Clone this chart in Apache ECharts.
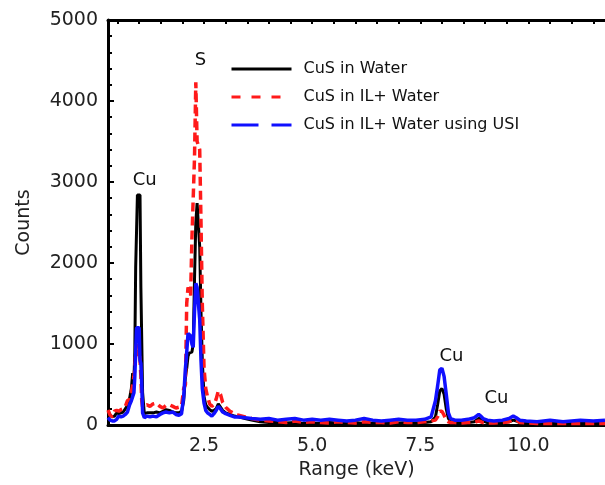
<!DOCTYPE html>
<html>
<head>
<meta charset="utf-8">
<script src="https://cdn.jsdelivr.net/npm/echarts@6/dist/echarts.min.js"></script>
<style>
  html, body { margin: 0; padding: 0; background: #fff; }
  #chart { width: 605px; height: 485px; }
</style>
</head>
<body>
<div id="chart"></div>
<script>
// energy grid (keV), shared by all three spectra
var energy = [0.28, 0.33, 0.38, 0.43, 0.48, 0.53, 0.58, 0.63, 0.68, 0.73, 0.78, 0.82, 0.85, 0.88, 0.9, 0.92, 0.94, 0.96, 0.98, 1.0,
  1.02, 1.04, 1.06, 1.08, 1.12, 1.18, 1.25, 1.32, 1.4, 1.48, 1.55, 1.62, 1.7, 1.78, 1.85, 1.92, 1.98, 2.03, 2.07, 2.1,
  2.13, 2.16, 2.19, 2.22, 2.25, 2.28, 2.31, 2.34, 2.37, 2.4, 2.43, 2.46, 2.5, 2.54, 2.58, 2.63, 2.68, 2.73, 2.78, 2.83,
  2.88, 2.93, 3.0, 3.1, 3.2, 3.3, 3.45, 3.6, 3.8, 4.0, 4.2, 4.4, 4.6, 4.8, 5.0, 5.2, 5.4, 5.6, 5.8, 6.0,
  6.2, 6.4, 6.6, 6.8, 7.0, 7.2, 7.4, 7.6, 7.75, 7.85, 7.9, 7.95, 8.0, 8.05, 8.1, 8.15, 8.2, 8.3, 8.45, 8.6,
  8.75, 8.85, 8.9, 8.95, 9.05, 9.2, 9.4, 9.55, 9.65, 9.72, 9.8, 9.95, 10.2, 10.5, 10.8, 11.0, 11.2, 11.5, 11.77]

var cusWater = [160, 120, 100, 110, 150, 140, 150, 160, 200, 240, 330, 450, 640, 560, 900, 1950, 1950, 2840, 2840, 2840,
  2840, 1700, 1700, 400, 140, 150, 150, 150, 160, 150, 170, 190, 180, 160, 150, 150, 170, 300, 600, 700,
  850, 890, 890, 900, 1000, 1800, 2500, 2740, 2740, 2200, 1400, 800, 350, 250, 220, 190, 170, 180, 200, 260,
  220, 180, 150, 130, 110, 100, 80, 60, 40, 30, 30, 25, 30, 20, 25, 20, 30, 25, 20, 30,
  20, 25, 20, 30, 25, 30, 25, 30, 40, 100, 250, 420, 450, 380, 200, 80, 40, 30, 25, 30,
  40, 80, 80, 50, 30, 25, 30, 40, 60, 50, 30, 25, 20, 20, 20, 20, 20, 20, 20]

var cusIL = [185, 120, 100, 170, 180, 170, 190, 200, 230, 300, 320, 400, 500, 600, 700, 900, 1000, 950, 850, 900,
  800, 600, 300, 220, 240, 250, 230, 260, 270, 230, 210, 240, 250, 230, 210, 220, 230, 450, 500, 1500,
  1700, 1650, 1600, 2300, 2800, 3300, 4230, 3500, 3480, 3400, 2500, 1500, 700, 450, 350, 260, 230, 250, 320, 420,
  380, 280, 220, 170, 140, 120, 100, 80, 60, 50, 40, 30, 50, 30, 40, 30, 25, 40, 30, 25,
  40, 30, 30, 25, 40, 30, 30, 40, 50, 60, 100, 170, 170, 120, 60, 40, 30, 30, 25, 30,
  30, 50, 40, 30, 25, 25, 30, 40, 70, 60, 30, 25, 20, 20, 20, 20, 20, 20, 20]

var cusUSI = [90, 60, 50, 50, 70, 110, 100, 110, 130, 160, 250, 300, 350, 400, 600, 900, 1200, 1200, 1200, 1200,
  800, 760, 500, 150, 90, 110, 100, 110, 100, 130, 150, 160, 150, 160, 130, 120, 140, 350, 700, 900,
  1130, 1130, 1100, 1000, 960, 1400, 1750, 1700, 1700, 1300, 800, 450, 270, 180, 150, 130, 110, 140, 180, 230,
  200, 160, 140, 120, 100, 100, 90, 80, 70, 80, 60, 70, 80, 60, 70, 60, 70, 60, 50, 60,
  80, 60, 50, 60, 70, 60, 60, 70, 100, 300, 480, 680, 700, 600, 380, 150, 80, 60, 60, 70,
  90, 130, 110, 80, 60, 50, 60, 80, 110, 90, 60, 50, 40, 60, 40, 50, 60, 50, 60]

var seriesNames = ['CuS in Water', 'CuS in IL+ Water', 'CuS in IL+ Water using USI']
var xLabels = [2.5, 5, 7.5, 10]
var topTicks = [0.5, 1, 1.5, 2, 2.5, 3, 3.5, 4, 4.5, 5, 5.5, 6, 6.5, 7, 7.5, 8, 8.5, 9, 9.5, 10, 10.5, 11, 11.5]

// peak labels [keV, counts, text]
var peakLabels = [[1.13, 3025, 'Cu'], [2.42, 4500, 'S'], [8.22, 850, 'Cu'], [9.26, 333, 'Cu']]

function pairs (ys) {
  return energy.map(function (e, i) { return [e, ys[i]] })
}

var font = 'DejaVu Sans'
var chart = echarts.init(document.getElementById('chart'))

// legend keys: only the line, no symbol
var hideSymbol = { opacity: 0, color: 'transparent', borderWidth: 0 }

var option = {
  animation: false,
  backgroundColor: '#fff',
  grid: { left: 108, top: 20, right: 0, bottom: 60 },
  legend: {
    orient: 'vertical',
    left: 225,
    top: 56,
    itemWidth: 60,
    itemHeight: 14,
    itemGap: 12,
    textStyle: { fontFamily: font, fontSize: 16, lineHeight: 14, color: '#111', padding: [0, 0, 0, 7] },
    data: [
      { name: seriesNames[0], itemStyle: hideSymbol, lineStyle: { type: 'solid', width: 3 } },
      { name: seriesNames[1], itemStyle: hideSymbol, lineStyle: { type: [9, 11], width: 3 } },
      { name: seriesNames[2], itemStyle: hideSymbol, lineStyle: { type: [27, 13], width: 3 } }
    ]
  },
  xAxis: [
    {
      type: 'value',
      min: 0.28,
      max: 11.77,
      name: 'Range (keV)',
      nameLocation: 'middle',
      nameGap: 36,
      nameTextStyle: { fontFamily: font, fontSize: 19, color: '#222' },
      axisLine: { lineStyle: { color: '#000', width: 3 } },
      axisTick: { show: false },
      axisLabel: { customValues: xLabels, margin: 12, fontFamily: font, fontSize: 19, color: '#222',
        formatter: function (v) { return v.toFixed(1) } },
      splitLine: { show: false }
    },
    {
      type: 'value',
      position: 'top',
      min: 0.28,
      max: 11.77,
      axisLine: { onZero: false, lineStyle: { color: '#000', width: 3 } },
      axisTick: { inside: true, customValues: topTicks, length: 4, lineStyle: { color: '#000', width: 2 } },
      axisLabel: { show: false },
      splitLine: { show: false }
    }
  ],
  yAxis: {
    type: 'value',
    min: 0,
    max: 5000,
    interval: 1000,
    name: 'Counts',
    nameLocation: 'middle',
    nameGap: 74,
    nameTextStyle: { fontFamily: font, fontSize: 19, color: '#222' },
    axisLine: { lineStyle: { color: '#000', width: 3 } },
    axisTick: { inside: true, length: 6, lineStyle: { color: '#000', width: 2 } },
    minorTick: { show: true, splitNumber: 5, length: 4, lineStyle: { color: '#000', width: 2 } },
    axisLabel: { margin: 10, fontFamily: font, fontSize: 19, color: '#222',
      formatter: function (v) { return String(v) } },
    splitLine: { show: false }
  },
  series: [
    {
      name: seriesNames[0],
      type: 'line',
      symbol: 'none',
      data: pairs(cusWater),
      lineStyle: { color: '#000', width: 3 },
      itemStyle: { color: '#000' },
      markPoint: {
        symbol: 'circle',
        symbolSize: 0,
        label: { show: true, position: 'inside', fontFamily: font, fontSize: 18, color: '#111',
          formatter: function (p) { return p.name } },
        data: peakLabels.map(function (p) { return { name: p[2], coord: [p[0], p[1]] } })
      }
    },
    {
      name: seriesNames[1],
      type: 'line',
      symbol: 'none',
      data: pairs(cusIL),
      lineStyle: { color: '#ff1a1a', width: 3.5, type: [9, 5] },
      itemStyle: { color: '#ff1a1a' }
    },
    {
      name: seriesNames[2],
      type: 'line',
      symbol: 'none',
      data: pairs(cusUSI),
      lineStyle: { color: '#1010ff', width: 3.5 },
      itemStyle: { color: '#1010ff' }
    }
  ]
}
chart.setOption(option)
</script>
</body>
</html>
